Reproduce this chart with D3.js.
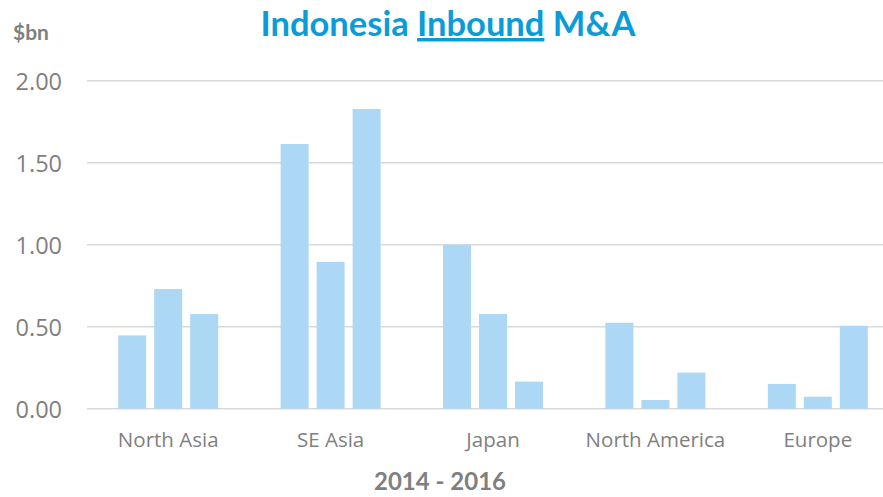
<!DOCTYPE html>
<html><head><meta charset="utf-8">
<script src="https://cdn.jsdelivr.net/npm/d3@7"></script>
<style>body{margin:0;background:#fff}svg{display:block}</style>
</head><body>
<svg id="c" width="883" height="497"></svg>
<script>
const categories = ["North Asia", "SE Asia", "Japan", "North America", "Europe"];
const years = ["2014", "2015", "2016"];
const v2014 = [0.447, 1.614, 1.00, 0.524, 0.151];
const v2015 = [0.73, 0.895, 0.577, 0.053, 0.073];
const v2016 = [0.577, 1.827, 0.165, 0.22, 0.506];
const yTicks = [0, 0.5, 1.0, 1.5, 2.0];
const titleParts = ["Indonesia ", "Inbound", " M&A"];
const yUnit = "$bn";
const xTitle = "2014 - 2016";

const series = [v2014, v2015, v2016];
const svg = d3.select("#c");
const gray = "#7f7f7f";
const y = d3.scaleLinear().domain([0, 2]).range([408.7, 80.7]);
const x0 = d3.scaleBand().domain(categories).range([87, 899]).padding(0);
const x1 = d3.scaleBand().domain(years).range([0, x0.bandwidth()]).paddingInner(0.2222).paddingOuter(0.8667);

// gridlines
svg.append("g").selectAll("line").data(yTicks).join("line")
  .attr("x1", 87).attr("x2", 883)
  .attr("y1", d => y(d)).attr("y2", d => y(d))
  .attr("stroke", "#d9d9d9").attr("stroke-width", 1.5);

// y axis labels
const yAxis = d3.axisLeft(y).tickValues(yTicks).tickFormat(d3.format(".2f")).tickSize(0).tickPadding(0);
const ga = svg.append("g").attr("transform", "translate(62,0)").call(yAxis);
ga.select(".domain").remove();
ga.selectAll("text").attr("font-family", "Open Sans").attr("font-size", 23.5).attr("fill", gray).attr("dy", "0.36em");

// bars
const groups = svg.append("g").selectAll("g").data(categories).join("g")
  .attr("transform", d => `translate(${x0(d)},0)`);
groups.selectAll("rect").data((d, i) => years.map((yr, j) => ({yr, v: series[j][i]}))).join("rect")
  .attr("x", d => x1(d.yr)).attr("width", x1.bandwidth())
  .attr("y", d => y(d.v)).attr("height", d => y(0) - y(d.v))
  .attr("fill", "#acd8f6");

// x axis labels
const xAxis = d3.axisBottom(x0).tickSize(0).tickPadding(0);
const gx = svg.append("g").attr("transform", "translate(0,447)").call(xAxis);
gx.select(".domain").remove();
gx.selectAll("text").attr("font-family", "Open Sans").attr("font-size", 20.5).attr("fill", gray).attr("dy", 0);

// title
const t = svg.append("text").attr("x", 448).attr("y", 36).attr("text-anchor", "middle")
  .attr("font-family", "Lato").attr("font-weight", "bold").attr("font-size", 34.5).attr("fill", "#0a9bd9");
titleParts.forEach((p, i) => {
  const ts = t.append("tspan").text(p);
  if (i === 1) ts.attr("text-decoration", "underline");
});

svg.append("text").attr("x", 13).attr("y", 40).text(yUnit)
  .attr("font-family", "Lato").attr("font-weight", "bold").attr("font-size", 21).attr("fill", gray);

svg.append("text").attr("x", 440).attr("y", 490).attr("text-anchor", "middle").text(xTitle)
  .attr("font-family", "Lato").attr("font-weight", "bold").attr("font-size", 24).attr("fill", gray);
</script>
</body></html>
